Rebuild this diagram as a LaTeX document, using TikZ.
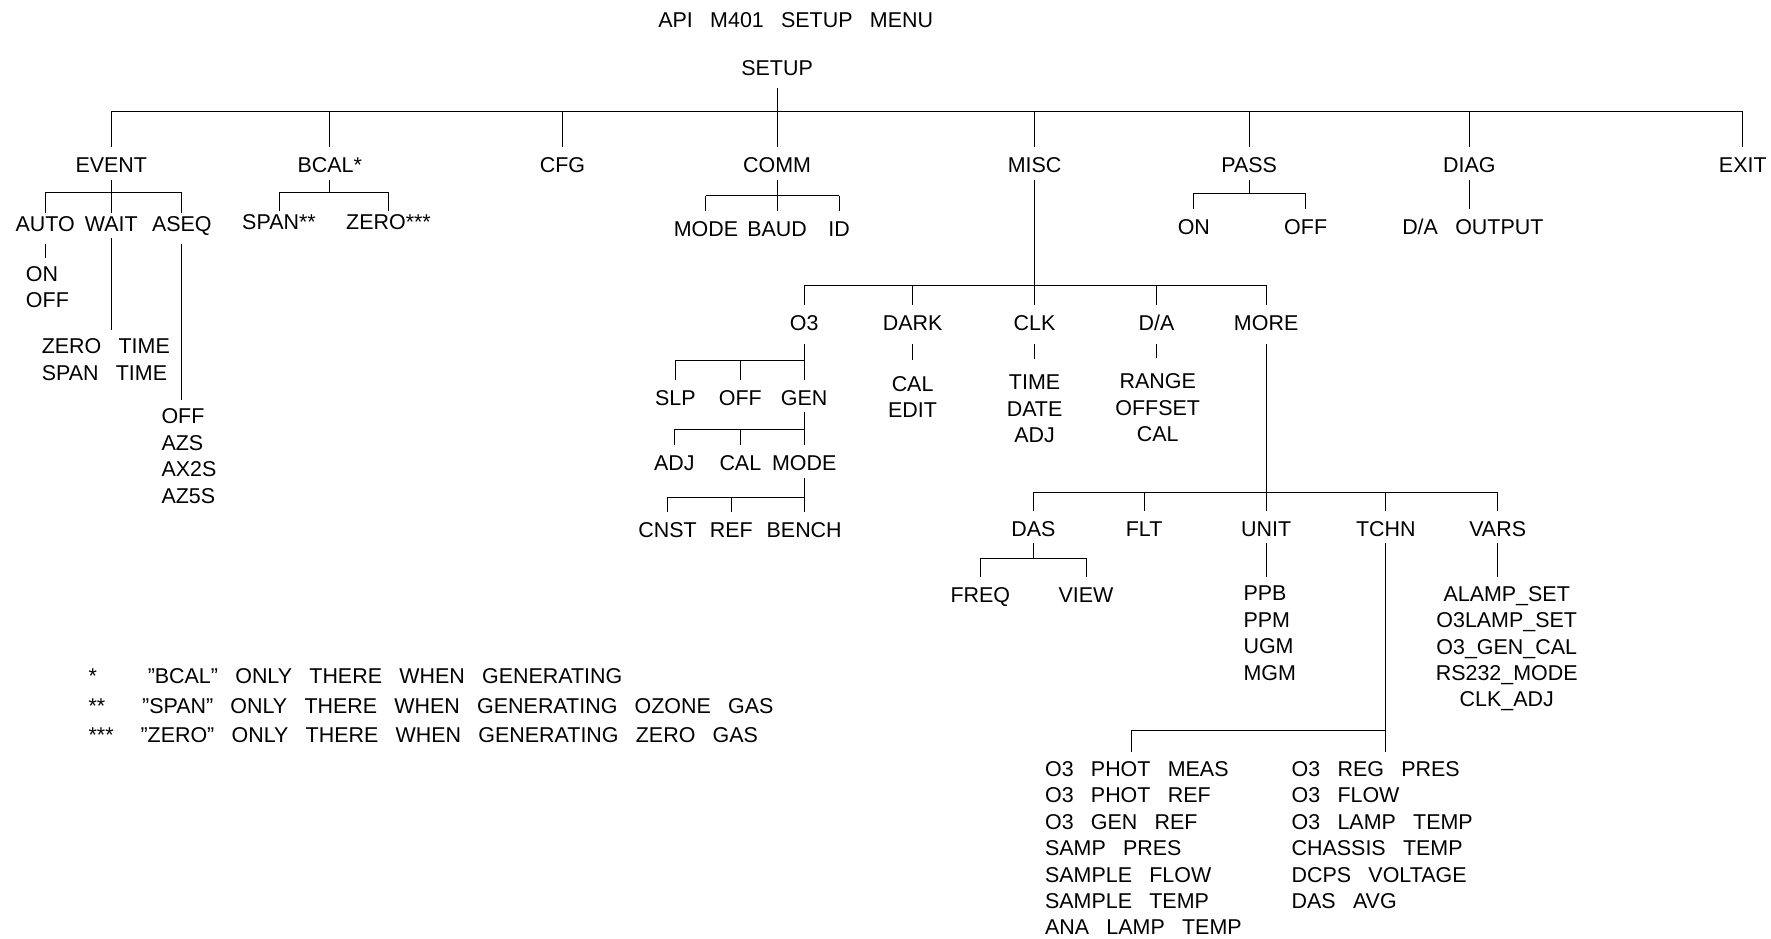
\documentclass[tikz,border=0pt]{standalone}
\usepackage{fontspec}
\setmainfont{Liberation Sans}[WordSpace=2.9]
\usetikzlibrary{positioning, calc}
\newcommand{\menufont}{\fontsize{13.5pt}{16.65pt}\selectfont}

\begin{document}
\begin{tikzpicture}[
			x=0.025cm, y=-0.025cm,
			line width=0.6pt,
			lbl/.style={inner sep=0pt, outer sep=0.1cm, text height=0.465cm, text depth=0.05cm, anchor=base, font=\menufont},
			lst/.style={inner sep=0pt, outer xsep=0pt, outer ysep=0.2cm, font=\menufont},
			note/.style={inner sep=0pt, anchor=base west, font=\menufont},
			gap/.style={shorten <=0.13cm},
			stub/.style={shorten <=0.15cm, shorten >=0.15cm},
			near/.style={shorten >=-0.15cm}
			]
			\useasboundingbox (0,0) rectangle (1568,831);
			
			\node[inner sep=0pt, font=\menufont] (title) at (704.5,18) {API M401 SETUP MENU};
			\node[lbl] (setup) at (688,67) {SETUP};
			
			% main menu
			\node[lbl] (event) at (98.5,153) {EVENT};
			\node[lbl] (bcal) at (292,153) {BCAL*};
			\node[lbl] (cfg) at (498,153) {CFG};
			\node[lbl] (comm) at (688,153) {COMM};
			\node[lbl] (misc) at (916,153) {MISC};
			\node[lbl] (pass) at (1106,153) {PASS};
			\node[lbl] (diag) at (1301,153) {DIAG};
			\node[lbl] (exit) at (1543,153) {EXIT};
			
			\coordinate (bus0) at (0,99);
			\draw[gap] (setup.south) -- (setup.south |- bus0);
			\draw (event.north |- bus0) -- (exit.north |- bus0);
			\foreach \n in {event,bcal,cfg,comm,misc,pass,diag,exit}
				\draw (\n.north |- bus0) -- (\n.north);
			
			% EVENT
			\node[lbl] (auto) at (40,205) {AUTO};
			\node[lbl] (wait) at (98.5,205) {WAIT};
			\node[lbl] (aseq) at (161,205) {ASEQ};
			\coordinate (busev) at (0,170.6);
			\draw (event.south) -- (event.south |- busev);
			\draw (auto.north |- busev) -- (aseq.north |- busev);
			\foreach \n in {auto,wait,aseq}
				\draw[near] (\n.north |- busev) -- (\n.north);
			
			\node[lst, anchor=north west, align=left] (autol) at (23,228) {ON\\OFF};
			\node[lst, anchor=north west, align=left] (waitl) at (37,292) {ZERO TIME\\SPAN TIME};
			\node[lst, anchor=north west, align=left] (aseql) at (143,354) {OFF\\AZS\\AX2S\\AZ5S};
			\draw[gap] (auto.south) -- (auto.south |- autol.north);
			\draw (wait.south) -- (wait.south |- waitl.north);
			\draw[gap] (aseq.south) -- (aseq.south |- aseql.north);
			
			% BCAL
			\node[lbl] (span) at (247,203) {SPAN**};
			\node[lbl] (zero) at (344,203) {ZERO***};
			\coordinate (busbc) at (0,170.3);
			\draw (bcal.south) -- (bcal.south |- busbc);
			\draw (span.north |- busbc) -- (zero.north |- busbc);
			\foreach \n in {span,zero}
				\draw[near] (\n.north |- busbc) -- (\n.north);
			
			% COMM
			\node[lbl] (mode) at (625,209) {MODE};
			\node[lbl] (baud) at (688,209) {BAUD};
			\node[lbl] (id) at (743,209) {ID};
			\coordinate (buscm) at (0,173.2);
			\draw (comm.south) -- (comm.south |- buscm);
			\draw (mode.north |- buscm) -- (id.north |- buscm);
			\foreach \n in {mode,baud,id}
				\draw (\n.north |- buscm) -- (\n.north);
			
			% PASS and DIAG
			\node[lbl] (pon) at (1057,207.5) {ON};
			\node[lbl] (poff) at (1156,207.5) {OFF};
			\coordinate (busps) at (0,171);
			\draw (pass.south) -- (pass.south |- busps);
			\draw (pon.north |- busps) -- (poff.north |- busps);
			\foreach \n in {pon,poff}
				\draw (\n.north |- busps) -- (\n.north);
			\node[lbl] (dout) at (1304,207.5) {D/A OUTPUT};
			\draw (diag.south) -- (diag.south |- dout.north);
			
			% MISC
			\node[lbl] (o3) at (712,293) {O3};
			\node[lbl] (dark) at (808,293) {DARK};
			\node[lbl] (clk) at (916,293) {CLK};
			\node[lbl] (da) at (1024,293) {D/A};
			\node[lbl] (more) at (1121,293) {MORE};
			\coordinate (busms) at (0,252.6);
			\draw (misc.south) -- (misc.south |- busms);
			\draw (o3.north |- busms) -- (more.north |- busms);
			\foreach \n in {o3,dark,clk,da,more}
				\draw (\n.north |- busms) -- (\n.north);
			
			\node[lst, anchor=north, align=center] (darkl) at (808,325) {CAL\\EDIT};
			\node[lst, anchor=north, align=center] (clkl) at (916,324) {TIME\\DATE\\ADJ};
			\node[lst, anchor=north, align=center] (dal) at (1025,323) {RANGE\\OFFSET\\CAL};
			\draw[stub] (dark.south) -- (dark.south |- darkl.north);
			\draw[stub] (clk.south) -- (clk.south |- clkl.north);
			\draw[stub] (da.south) -- (da.south |- dal.north);
			
			% O3
			\node[lbl] (slp) at (598,358.6) {SLP};
			\node[lbl] (ooff) at (655.5,358.6) {OFF};
			\node[lbl] (gen) at (712,358.6) {GEN};
			\coordinate (buso3) at (0,319.3);
			\draw[gap] (o3.south) -- (o3.south |- buso3);
			\draw (slp.north |- buso3) -- (gen.north |- buso3);
			\foreach \n in {slp,ooff,gen}
				\draw (\n.north |- buso3) -- (\n.north);
			
			\node[lbl] (adj) at (597,417) {ADJ};
			\node[lbl] (gcal) at (655.5,417) {CAL};
			\node[lbl] (gmode) at (712,417) {MODE};
			\coordinate (busgn) at (0,380);
			\draw (gen.south) -- (gen.south |- busgn);
			\draw (adj.north |- busgn) -- (gmode.north |- busgn);
			\foreach \n in {adj,gcal,gmode}
				\draw (\n.north |- busgn) -- (\n.north);
			
			\node[lbl] (cnst) at (591,476) {CNST};
			\node[lbl] (ref) at (647.5,476) {REF};
			\node[lbl] (bench) at (712,476) {BENCH};
			\coordinate (busmd) at (0,440.3);
			\draw (gmode.south) -- (gmode.south |- busmd);
			\draw (cnst.north |- busmd) -- (bench.north |- busmd);
			\foreach \n in {cnst,ref,bench}
				\draw (\n.north |- busmd) -- (\n.north);
			
			% MORE
			\node[lbl] (das) at (915,475) {DAS};
			\node[lbl] (flt) at (1013,475) {FLT};
			\node[lbl] (unit) at (1121,475) {UNIT};
			\node[lbl] (tchn) at (1227,475) {TCHN};
			\node[lbl] (vars) at (1326,475) {VARS};
			\coordinate (busmr) at (0,435.9);
			\draw[gap] (more.south) -- (more.south |- busmr);
			\draw (das.north |- busmr) -- (vars.north |- busmr);
			\foreach \n in {das,flt,unit,tchn,vars}
				\draw (\n.north |- busmr) -- (\n.north);
			
			\node[lbl] (freq) at (868,533.6) {FREQ};
			\node[lbl] (view) at (961.5,533.6) {VIEW};
			\coordinate (busds) at (0,494.3);
			\draw (das.south) -- (das.south |- busds);
			\draw (freq.north |- busds) -- (view.north |- busds);
			\foreach \n in {freq,view}
				\draw (\n.north |- busds) -- (\n.north);
			
			\node[lst, anchor=north west, align=left] (unitl) at (1101,511) {PPB\\PPM\\UGM\\MGM};
			\node[lst, anchor=north, align=center] (varsl) at (1334,511) {ALAMP\_SET\\O3LAMP\_SET\\O3\_GEN\_CAL\\RS232\_MODE\\CLK\_ADJ};
			\draw (unit.south) -- (unit.south |- unitl.north);
			\draw (vars.south) -- (vars.south |- varsl.north);
			
			% TCHN
			\node[lst, anchor=north west, align=left] (tchnl) at (925.3,666) {O3 PHOT MEAS\\O3 PHOT REF\\O3 GEN REF\\SAMP PRES\\SAMPLE FLOW\\SAMPLE TEMP\\ANA LAMP TEMP};
			\node[lst, anchor=north west, align=left] (tchnr) at (1143.6,666) {O3 REG PRES\\O3 FLOW\\O3 LAMP TEMP\\CHASSIS TEMP\\DCPS VOLTAGE\\DAS AVG};
			\coordinate (bustc) at (0,646.3);
			\coordinate (tdrop) at (1002,666);
			\draw (tchn.south) -- (tchn.south |- tchnr.north);
			\draw (tdrop) |- (tchn.south |- bustc);
			
			% notes
			\node[note] (fn1) at (78,605) {\makebox[1.31cm][l]{*}”BCAL” ONLY THERE WHEN GENERATING};
			\node[note] (fn2) at (78,632) {\makebox[1.185cm][l]{**}”SPAN” ONLY THERE WHEN GENERATING OZONE GAS};
			\node[note] (fn3) at (78,657) {\makebox[1.15cm][l]{***}”ZERO” ONLY THERE WHEN GENERATING ZERO GAS};
		\end{tikzpicture}
\end{document}
